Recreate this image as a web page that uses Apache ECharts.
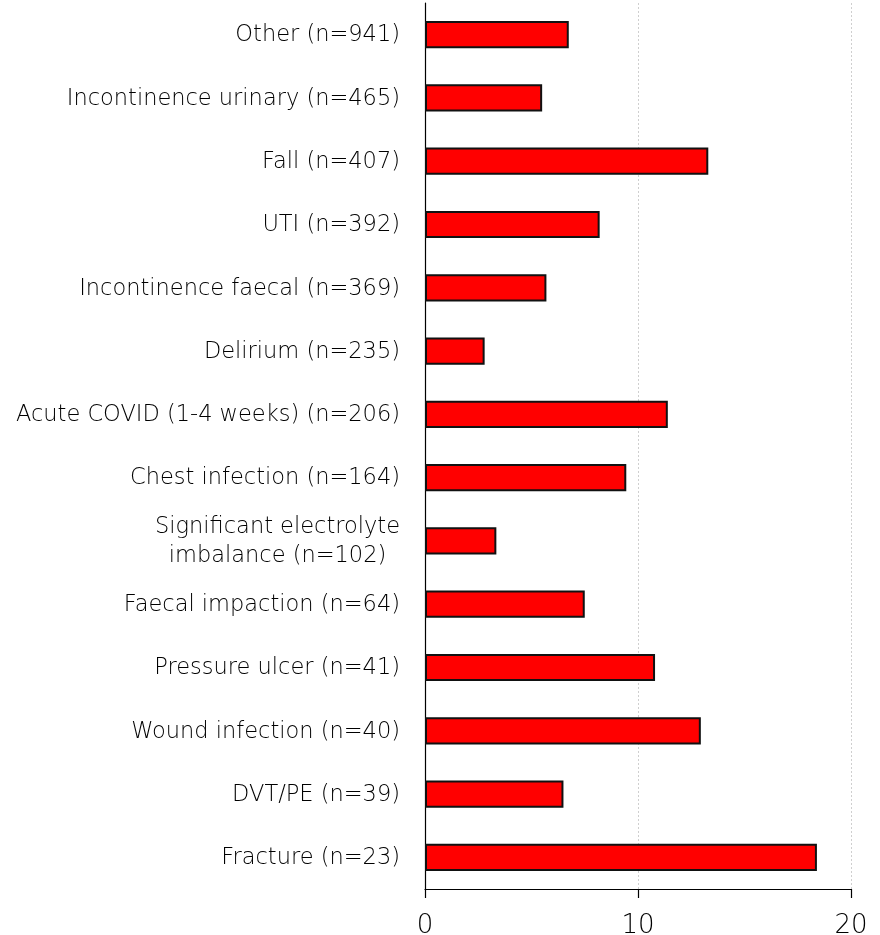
<!DOCTYPE html>
<html>
<head>
<meta charset="utf-8">
<style>
  html, body { margin: 0; padding: 0; background: #fff; }
  #chart { width: 880px; height: 935px; }
</style>
<script src="https://cdn.jsdelivr.net/npm/echarts@6/dist/echarts.min.js"></script>
</head>
<body>
<div id="chart"></div>
<script>
// Conditions, top to bottom
const categories = [
  'Other (n=941)',
  'Incontinence urinary (n=465)',
  'Fall (n=407)',
  'UTI (n=392)',
  'Incontinence faecal (n=369)',
  'Delirium (n=235)',
  'Acute COVID (1-4 weeks) (n=206)',
  'Chest infection (n=164)',
  'Significant electrolyte\nimbalance (n=102)',
  'Faecal impaction (n=64)',
  'Pressure ulcer (n=41)',
  'Wound infection (n=40)',
  'DVT/PE (n=39)',
  'Fracture (n=23)'
];
const values = [6.75, 5.5, 13.3, 8.2, 5.7, 2.8, 11.4, 9.45, 3.35, 7.5, 10.8, 12.95, 6.5, 18.4];
const xTicks = [0, 10, 20];

const chart = echarts.init(document.getElementById('chart'));
const FONT = '"DejaVu Sans"';

chart.setOption({
  animation: false,
  backgroundColor: '#ffffff',
  grid: { left: 425, right: 29, top: 3, bottom: 46, containLabel: false, outerBoundsMode: 'none' },
  xAxis: {
    type: 'value',
    min: xTicks[0],
    max: xTicks[xTicks.length - 1],
    interval: 10,
    axisLine: { show: true, lineStyle: { color: '#000', width: 1.2 } },
    axisTick: { show: true, length: 9, lineStyle: { color: '#000', width: 1.2 } },
    axisLabel: { margin: 24, fontFamily: FONT, fontWeight: 200, fontSize: 26, color: '#000' },
    splitLine: { show: true, lineStyle: { color: '#cfcfcf', type: [2, 2], width: 1 } }
  },
  yAxis: {
    type: 'category',
    data: categories,
    inverse: true,
    axisLine: { show: true, lineStyle: { color: '#000', width: 1.2 } },
    axisTick: { show: false },
    axisLabel: {
      margin: 25,
      fontFamily: FONT,
      fontWeight: 200,
      fontSize: 22.5,
      color: '#000',
      lineHeight: 29,
      formatter: function (v) {
        return v.split('\n').map(function (s) { return '{c|' + s + '}'; }).join('\n');
      },
      rich: { c: { align: 'center', fontFamily: FONT, fontWeight: 200, fontSize: 22.5, color: '#000', lineHeight: 29, padding: [2, 0, 0, 0] } }
    }
  },
  series: [{
    type: 'bar',
    data: values,
    barWidth: '43%',
    itemStyle: { color: '#ff0000', borderColor: '#111', borderWidth: 2 }
  }]
});
</script>
</body>
</html>
